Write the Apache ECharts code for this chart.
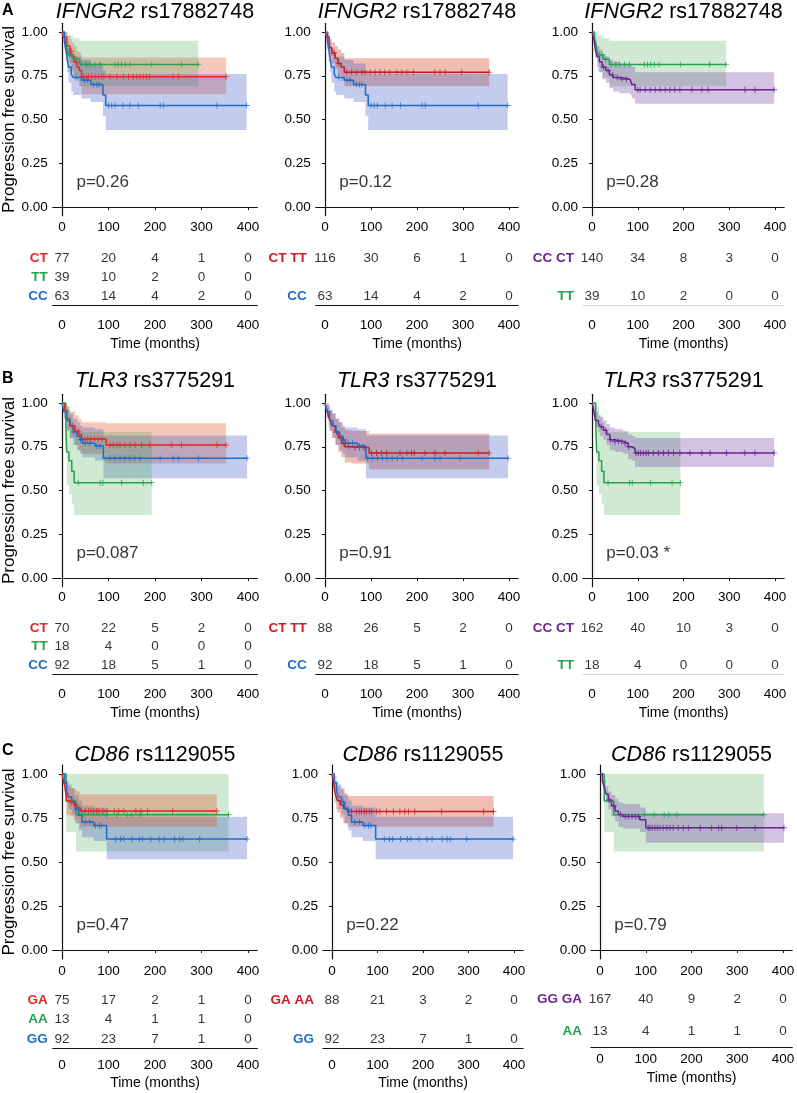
<!DOCTYPE html>
<html>
<head>
<meta charset="utf-8">
<script src="https://cdn.jsdelivr.net/npm/echarts@6/dist/echarts.min.js"></script>
<style>html,body{margin:0;padding:0;background:#fff}#chart{width:797px;height:1093px}</style>
</head>
<body>
<div id="chart"></div>
<script>
'use strict';

// ---- survival steps: [time, survival, lower CI, upper CI]; censor times (last one = end of curve)
var ifn_CT = [[0,1,1,1],[3,0.97,0.94,1],[10,0.92,0.86,0.98],[17,0.89,0.82,0.96],[21,0.86,0.79,0.94],[26,0.83,0.75,0.92],[32,0.80,0.72,0.89],[37,0.78,0.69,0.88],[42,0.745,0.645,0.855]];
var ifn_CT_cens = [20,30,46,52,57,64,71,78,85,90,103,118,132,143,153,161,168,175,182,188,239,250,353];
var ifn_TT = [[0,1,1,1],[5,0.97,0.93,1],[9,0.92,0.85,1],[13,0.87,0.77,0.98],[24,0.845,0.74,0.965],[38,0.815,0.69,0.95]];
var ifn_TT_cens = [16,22,30,42,52,60,71,82,114,121,128,136,146,193,257,293];
var ifn_CC = [[0,1,1,1],[5,0.95,0.90,1],[8,0.90,0.83,0.98],[11,0.85,0.77,0.94],[14,0.80,0.71,0.91],[20,0.76,0.66,0.87],[24,0.74,0.64,0.86],[42,0.725,0.62,0.84],[62,0.70,0.60,0.82],[88,0.64,0.52,0.78],[94,0.58,0.44,0.76]];
var ifn_CC_cens = [30,48,55,68,75,80,100,107,114,131,146,164,211,218,333,397];
var ifn_CTTT = [[0,1,1,1],[4,0.97,0.94,1],[9,0.91,0.86,0.96],[15,0.88,0.82,0.94],[22,0.85,0.79,0.92],[28,0.82,0.75,0.90],[35,0.80,0.72,0.88],[42,0.77,0.69,0.85]];
var ifn_CTTT_cens = [20,30,47,58,69,80,87,98,109,120,130,141,156,167,178,192,239,250,261,297,357];
var ifn_CCCT = [[0,1,1,1],[4,0.96,0.93,0.99],[7,0.90,0.85,0.95],[11,0.86,0.80,0.92],[16,0.83,0.77,0.90],[22,0.80,0.73,0.87],[30,0.78,0.71,0.86],[38,0.755,0.68,0.84],[46,0.74,0.66,0.83],[60,0.73,0.65,0.82],[83,0.72,0.64,0.81],[87,0.70,0.62,0.80],[94,0.67,0.59,0.77]];
var ifn_CCCT_cens = [25,35,45,55,65,75,100,105,116,127,138,149,160,170,181,192,218,240,254,334,356,398];

var tlr_CT = [[0,1,1,1],[5,0.96,0.91,1],[10,0.91,0.85,0.98],[17,0.87,0.80,0.95],[28,0.84,0.76,0.93],[36,0.82,0.73,0.91],[42,0.795,0.71,0.89],[95,0.76,0.655,0.885]];
var tlr_CT_cens = [22,35,48,55,62,70,78,86,103,110,118,125,135,146,157,171,189,236,257,333,353];
var tlr_TT = [[0,1,1,1],[8,0.89,0.76,1],[10,0.72,0.53,0.98],[15,0.67,0.48,0.93],[21,0.61,0.42,0.89],[26,0.545,0.36,0.835]];
var tlr_TT_cens = [35,82,88,128,175,193];
var tlr_CC = [[0,1,1,1],[4,0.95,0.91,0.99],[10,0.90,0.84,0.96],[17,0.87,0.80,0.94],[24,0.835,0.76,0.91],[32,0.81,0.73,0.89],[39,0.79,0.71,0.87],[44,0.77,0.69,0.86],[71,0.755,0.67,0.85],[89,0.685,0.57,0.815]];
var tlr_CC_cens = [25,40,50,60,75,82,93,103,114,125,135,146,157,168,211,239,250,293,398];
var tlr_CTTT = [[0,1,1,1],[4,0.96,0.92,1],[8,0.92,0.86,0.98],[11,0.90,0.84,0.96],[15,0.87,0.80,0.94],[22,0.835,0.76,0.91],[29,0.80,0.72,0.89],[36,0.77,0.69,0.86],[43,0.75,0.66,0.845],[58,0.745,0.655,0.84],[96,0.715,0.62,0.825]];
var tlr_CTTT_cens = [25,40,52,65,75,85,101,112,123,134,163,178,188,194,217,239,261,333,357];
var tlr_CCCT = [[0,1,1,1],[3,0.97,0.94,1],[7,0.90,0.86,0.95],[14,0.88,0.83,0.93],[18,0.865,0.81,0.92],[25,0.845,0.79,0.90],[32,0.82,0.76,0.88],[39,0.79,0.73,0.86],[50,0.78,0.72,0.85],[68,0.77,0.71,0.84],[79,0.75,0.68,0.82],[87,0.74,0.67,0.81],[94,0.715,0.635,0.80]];
var tlr_CCCT_cens = [20,30,40,50,58,65,72,80,96,101,106,112,118,123,134,145,156,167,178,192,214,240,258,294,334,356,398];

var cd_GA = [[0,1,1,1],[4,0.95,0.90,1],[7,0.92,0.86,0.98],[10,0.85,0.77,0.93],[17,0.84,0.76,0.92],[25,0.825,0.74,0.91],[32,0.81,0.72,0.90],[39,0.79,0.70,0.885]];
var cd_GA_cens = [20,30,42,50,57,62,68,74,79,88,97,112,122,133,159,170,184,238,333];
var cd_AA = [[0,1,1,1],[9,0.846,0.67,1],[30,0.769,0.56,1]];
var cd_AA_cens = [45,97,118,140,150,168,358];
var cd_GG = [[0,1,1,1],[5,0.95,0.91,0.99],[10,0.90,0.84,0.96],[14,0.87,0.80,0.94],[21,0.84,0.77,0.92],[28,0.80,0.72,0.88],[36,0.765,0.68,0.85],[43,0.727,0.64,0.82],[68,0.708,0.62,0.81],[96,0.63,0.515,0.757]];
var cd_GG_cens = [25,35,50,60,72,80,85,115,126,133,151,166,173,191,209,220,242,253,260,296,398];
var cd_GAAA = [[0,1,1,1],[3,0.96,0.92,1],[6,0.90,0.84,0.96],[9,0.87,0.80,0.94],[12,0.85,0.78,0.93],[18,0.825,0.75,0.91],[25,0.805,0.72,0.89],[34,0.787,0.70,0.875]];
var cd_GAAA_cens = [43,54,60,65,71,76,82,87,98,105,120,135,149,160,168,182,241,333,355];
var cd_GGGA = [[0,1,1,1],[5,0.96,0.93,0.99],[9,0.93,0.89,0.97],[13,0.886,0.84,0.93],[18,0.852,0.80,0.90],[25,0.82,0.76,0.88],[33,0.79,0.73,0.86],[40,0.77,0.70,0.84],[50,0.758,0.69,0.83],[87,0.74,0.67,0.81],[100,0.695,0.61,0.777]];
var cd_GGGA_cens = [20,30,45,55,62,70,78,84,105,109,114,120,125,131,138,146,153,160,171,182,193,219,244,259,266,299,339,402];

// ---- numbers at risk at 0/100/200/300/400
var riskTimes = [0, 100, 200, 300, 400];
var ifn_n_CT = [77,20,4,1,0], ifn_n_TT = [39,10,2,0,0], ifn_n_CC = [63,14,4,2,0];
var ifn_n_CTTT = [116,30,6,1,0], ifn_n_CCCT = [140,34,8,3,0];
var tlr_n_CT = [70,22,5,2,0], tlr_n_TT = [18,4,0,0,0], tlr_n_CC = [92,18,5,1,0];
var tlr_n_CTTT = [88,26,5,2,0], tlr_n_CCCT = [162,40,10,3,0];
var cd_n_GA = [75,17,2,1,0], cd_n_AA = [13,4,1,1,0], cd_n_GG = [92,23,7,1,0];
var cd_n_GAAA = [88,21,3,2,0], cd_n_GGGA = [167,40,9,2,0];

var yTicks = [0, 0.25, 0.5, 0.75, 1];
var pValues = ['p=0.26','p=0.12','p=0.28','p=0.087','p=0.91','p=0.03 *','p=0.47','p=0.22','p=0.79'];

var FONT = 'Liberation Sans, Arial, Helvetica, sans-serif';
var AX = '#111';
var TXT = '#000';
var RED = '#E8262A', RED2 = '#C81D2A', GREEN = '#22A34C', BLUE = '#1F6CC6', PURPLE = '#6B2391';
var BAND = {};
BAND[RED] = 'rgba(225,70,30,0.3)';
BAND[RED2] = 'rgba(205,55,20,0.33)';
BAND[GREEN] = 'rgba(60,165,70,0.24)';
BAND[BLUE] = 'rgba(55,85,192,0.3)';
BAND[PURPLE] = 'rgba(108,55,162,0.3)';
var PLUS = 'path://M4.2,0h1.6v10h-1.6zM0,4.2h10v1.6h-10z';

var panels = [
	{ gene:'IFNGR2', snp:'rs17882748', curves:[[ifn_CT,ifn_CT_cens,RED],[ifn_TT,ifn_TT_cens,GREEN],[ifn_CC,ifn_CC_cens,BLUE]],
	  rows:[['CT',RED,ifn_n_CT],['TT',GREEN,ifn_n_TT],['CC',BLUE,ifn_n_CC]] },
	{ gene:'IFNGR2', snp:'rs17882748', curves:[[ifn_CTTT,ifn_CTTT_cens,RED2],[ifn_CC,ifn_CC_cens,BLUE]],
	  rows:[['CT TT',RED2,ifn_n_CTTT],null,['CC',BLUE,ifn_n_CC]] },
	{ gene:'IFNGR2', snp:'rs17882748', curves:[[ifn_TT,ifn_TT_cens,GREEN],[ifn_CCCT,ifn_CCCT_cens,PURPLE]],
	  rows:[['CC CT',PURPLE,ifn_n_CCCT],null,['TT',GREEN,ifn_n_TT]], grayLine:true },
	{ gene:'TLR3', snp:'rs3775291', curves:[[tlr_CT,tlr_CT_cens,RED],[tlr_CC,tlr_CC_cens,BLUE],[tlr_TT,tlr_TT_cens,GREEN]],
	  rows:[['CT',RED,tlr_n_CT],['TT',GREEN,tlr_n_TT],['CC',BLUE,tlr_n_CC]] },
	{ gene:'TLR3', snp:'rs3775291', curves:[[tlr_CTTT,tlr_CTTT_cens,RED2],[tlr_CC,tlr_CC_cens,BLUE]],
	  rows:[['CT TT',RED2,tlr_n_CTTT],null,['CC',BLUE,tlr_n_CC]] },
	{ gene:'TLR3', snp:'rs3775291', curves:[[tlr_TT,tlr_TT_cens,GREEN],[tlr_CCCT,tlr_CCCT_cens,PURPLE]],
	  rows:[['CC CT',PURPLE,tlr_n_CCCT],null,['TT',GREEN,tlr_n_TT]], grayLine:true },
	{ gene:'CD86', snp:'rs1129055', curves:[[cd_AA,cd_AA_cens,GREEN],[cd_GG,cd_GG_cens,BLUE],[cd_GA,cd_GA_cens,RED]],
	  rows:[['GA',RED,cd_n_GA],['AA',GREEN,cd_n_AA],['GG',BLUE,cd_n_GG]] },
	{ gene:'CD86', snp:'rs1129055', curves:[[cd_GAAA,cd_GAAA_cens,RED2],[cd_GG,cd_GG_cens,BLUE]],
	  rows:[['GA AA',RED2,cd_n_GAAA],null,['GG',BLUE,cd_n_GG]] },
	{ gene:'CD86', snp:'rs1129055', curves:[[cd_AA,cd_AA_cens,GREEN],[cd_GGGA,cd_GGGA_cens,PURPLE]],
	  rows:[['GG GA',PURPLE,cd_n_GGGA],['AA',GREEN,cd_n_AA]], table:{top:983,h:64,lm:5,ng:24} }
];

// layout (pixels)
var KM_TOP = [23.25, 394.25, 765.2], KM_H = [192.5, 192.5, 193.6];
var GX = [[52.7,315.8,582.9],[52.7,315.8,582.9],[52.7,322.9,590.9]];
var GW = [[204.6,202.4,201.3],[204.6,202.4,201.3],[204.6,200.2,201.3]];
var TITLE_TOP = [1, 370, 744];
var TB_TOP = [248.5, 619, 990.5], TB_H = [57, 55, 58];
var TB_LM = [13, 13.5, 10], TB_NG = [32, 32, 28];
var KM_LM = [5, 4, 5];

function survAt(steps, t) {
	var s = 1;
	for (var i = 0; i < steps.length; i++) {
		if (steps[i][0] <= t) s = steps[i][1];
	}
	return s;
}

// confidence band as one stepped polygon, placed through the grid's own scales
function bandSeries(g, steps, end, col) {
	return {
		type: 'custom', coordinateSystem: 'cartesian2d', xAxisIndex: g, yAxisIndex: g, silent: true, z: 1,
		data: steps.map(function(s) { return [s[0], s[2], s[3]]; }),
		encode: { x: 0, y: [1, 2] },
		renderItem: function(params, api) {
			if (params.dataIndex !== 0) return null;
			var up = [], lo = [];
			for (var k = 0; k < steps.length; k++) {
				var t0 = steps[k][0], t1 = k + 1 < steps.length ? steps[k + 1][0] : end;
				up.push(api.coord([t0, steps[k][3]]), api.coord([t1, steps[k][3]]));
				lo.push(api.coord([t0, steps[k][2]]), api.coord([t1, steps[k][2]]));
			}
			return { type: 'polygon', shape: { points: up.concat(lo.reverse()) }, style: { fill: BAND[col] } };
		}
	};
}

var grid = [], xAxis = [], yAxis = [], series = [], title = [];

panels.forEach(function(pn, i) {
	var r = Math.floor(i / 3), c = i % 3;
	var left = GX[r][c], w = GW[r][c];

	// survival plot
	var g = grid.length;
	grid.push({ left: left, top: KM_TOP[r], width: w, height: KM_H[r], containLabel: false, outerBoundsMode: 'none' });
	xAxis.push({
		gridIndex: g, type: 'value', min: -20, max: 420,
		axisLine: { show: true, lineStyle: { color: AX, width: 1.2 } },
		axisTick: { show: true, customValues: riskTimes, length: 3, lineStyle: { color: AX } },
		axisLabel: { customValues: riskTimes, margin: KM_LM[r], fontSize: 13.5, fontFamily: FONT, color: TXT },
		splitLine: { show: false }
	});
	yAxis.push({
		gridIndex: g, type: 'value', min: -0.05, max: 1.05,
		axisLine: { show: true, lineStyle: { color: AX, width: 1.2 } },
		axisTick: { show: true, customValues: yTicks, length: 3, lineStyle: { color: AX } },
		axisLabel: { customValues: yTicks, margin: 5, fontSize: 13.5, fontFamily: FONT, color: TXT,
			formatter: function(v) { return v.toFixed(2); } },
		splitLine: { show: false },
		name: c === 0 ? 'Progression free survival' : '',
		nameLocation: 'middle', nameRotate: 90, nameGap: 35,
		nameTextStyle: { fontSize: 17, fontFamily: FONT, color: TXT }
	});
	title.push({
		text: '{i|' + pn.gene + '} ' + pn.snp,
		left: left + w / 2, top: TITLE_TOP[r], textAlign: 'center', padding: 0,
		textStyle: { fontSize: 21.5, fontWeight: 'normal', fontFamily: FONT, color: TXT,
			rich: { i: { fontStyle: 'italic', fontSize: 21.5, fontFamily: FONT, color: TXT } } }
	});

	pn.curves.forEach(function(cv) {
		series.push(bandSeries(g, cv[0], cv[1][cv[1].length - 1], cv[2]));
	});
	// curves and censor marks
	pn.curves.forEach(function(cv) {
		var steps = cv[0], cens = cv[1], col = cv[2];
		var end = cens[cens.length - 1], last = steps[steps.length - 1];
		series.push({ type: 'line', xAxisIndex: g, yAxisIndex: g, step: 'end', symbol: 'none', silent: true,
			color: col, lineStyle: { color: col, width: 1.5 }, z: 3,
			data: steps.map(function(s) { return [s[0], s[1]]; }).concat([[end, last[1]]]) });
		series.push({ type: 'scatter', xAxisIndex: g, yAxisIndex: g, symbol: PLUS, symbolSize: 6, silent: true,
			itemStyle: { color: col }, z: 4,
			data: cens.map(function(t) { return [t, survAt(steps, t)]; }) });
	});
	// p-value
	series.push({ type: 'scatter', xAxisIndex: g, yAxisIndex: g, symbolSize: 1, silent: true,
		itemStyle: { color: 'rgba(0,0,0,0)' }, data: [[30, 0.14]],
		label: { show: true, position: 'right', distance: 0, formatter: pValues[i],
			fontSize: 17, fontFamily: FONT, color: TXT } });

	// risk table
	var tb = pn.table || { top: TB_TOP[r], h: TB_H[r], lm: TB_LM[r], ng: TB_NG[r] };
	var tg = grid.length;
	grid.push({ left: left, top: tb.top, width: w, height: tb.h, containLabel: false, outerBoundsMode: 'none' });
	xAxis.push({
		gridIndex: tg, type: 'value', min: -20, max: 420,
		axisLine: { show: true, lineStyle: { color: pn.grayLine ? '#d6d6d6' : AX, width: 1.2 } },
		axisTick: { show: false },
		axisLabel: { customValues: riskTimes, margin: tb.lm, fontSize: 13.5, fontFamily: FONT, color: TXT },
		splitLine: { show: false },
		name: 'Time (months)', nameLocation: 'middle', nameGap: tb.ng,
		nameTextStyle: { fontSize: 14, fontFamily: FONT, color: TXT }
	});
	yAxis.push({
		gridIndex: tg, type: 'category', inverse: true,
		data: pn.rows.map(function(rw) { return rw ? rw[0] : ''; }),
		axisLine: { show: false }, axisTick: { show: false }, splitLine: { show: false },
		axisLabel: { interval: 0, margin: c === 0 ? 5 : 9, fontWeight: 'bold', fontSize: 13.5, fontFamily: FONT,
			color: function(v, idx) { return pn.rows[idx] ? pn.rows[idx][1] : '#000'; } }
	});
	pn.rows.forEach(function(rw, ri) {
		if (!rw) return;
		series.push({ type: 'scatter', xAxisIndex: tg, yAxisIndex: tg, symbolSize: 1, silent: true,
			itemStyle: { color: 'rgba(0,0,0,0)' },
			data: riskTimes.map(function(t, k) { return [t, ri, rw[2][k]]; }),
			label: { show: true, position: 'inside', formatter: function(p) { return p.value[2]; },
				fontSize: 13.5, fontFamily: FONT, color: TXT } });
	});
});

var chart = echarts.init(document.getElementById('chart'), null, { renderer: 'canvas' });
chart.setOption({
	animation: false,
	backgroundColor: '#fff',
	title: title,
	grid: grid,
	xAxis: xAxis,
	yAxis: yAxis,
	series: series,
	graphic: [
		{ type: 'text', left: 2, top: 3, style: { text: 'A', fontSize: 16, fontWeight: 'bold', fontFamily: FONT, fill: '#000' } },
		{ type: 'text', left: 2, top: 371, style: { text: 'B', fontSize: 16, fontWeight: 'bold', fontFamily: FONT, fill: '#000' } },
		{ type: 'text', left: 2, top: 743, style: { text: 'C', fontSize: 16, fontWeight: 'bold', fontFamily: FONT, fill: '#000' } }
	]
});
</script>
</body>
</html>
